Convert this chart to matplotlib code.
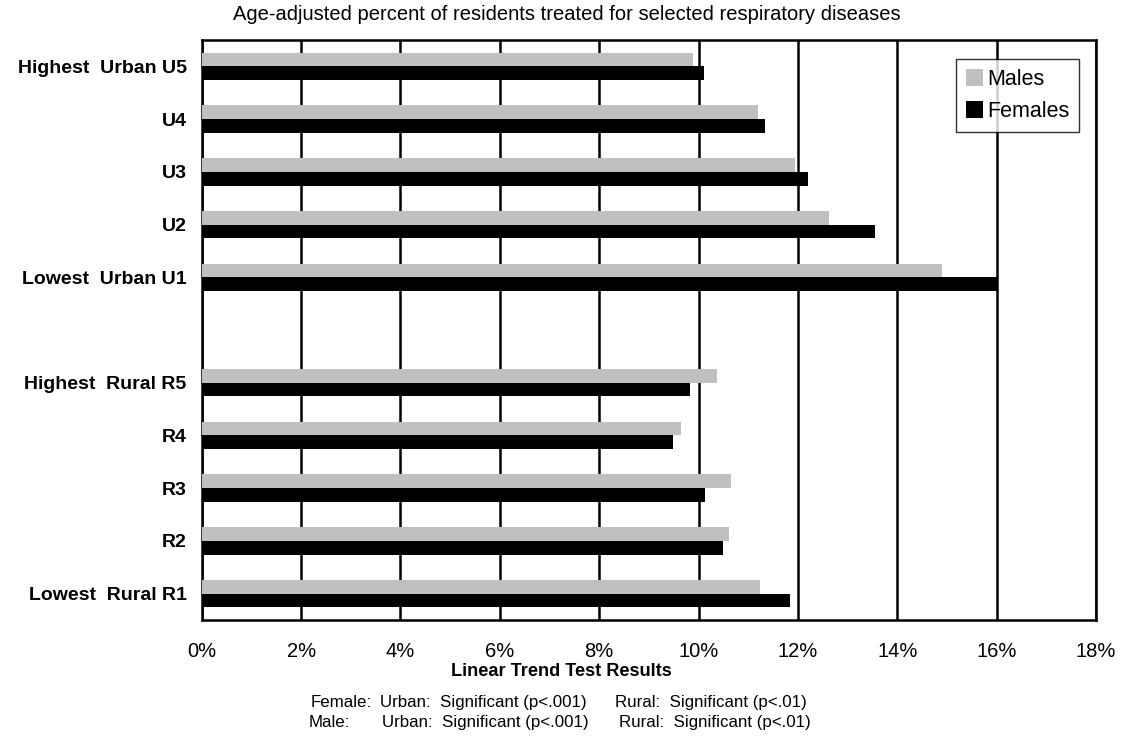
import matplotlib
matplotlib.use("Agg")
import matplotlib.pyplot as plt
import numpy as np

# data (percent)
labels = ["Lowest  Rural R1", "R2", "R3", "R4", "Highest  Rural R5",
          "Lowest  Urban U1", "U2", "U3", "U4", "Highest  Urban U5"]
males = [11.23, 10.62, 10.66, 9.64, 10.38, 14.89, 12.62, 11.95, 11.19, 9.89]
females = [11.84, 10.50, 10.13, 9.48, 9.82, 16.00, 13.55, 12.20, 11.34, 10.10]
xticks = [0, 2, 4, 6, 8, 10, 12, 14, 16, 18]

FONT = ["Liberation Sans", "DejaVu Sans"]
plt.rcParams["font.family"] = FONT

# rural groups at 0..4, one empty slot, urban at 6..10
pos = np.array([0, 1, 2, 3, 4, 6, 7, 8, 9, 10])
h = 0.26

fig = plt.figure(figsize=(11.21, 7.38), dpi=100)
ax = fig.add_axes([0.180, 0.160, 0.7977, 0.7858])

ax.barh(pos + h / 2, males, height=h, color="#c0c0c0", label="Males", zorder=3)
ax.barh(pos - h / 2, females, height=h, color="black", label="Females", zorder=3)

ax.set_xlim(0, 18)
ax.set_ylim(-0.5, 10.5)
ax.set_xticks(xticks)
ax.set_xticklabels([f"{t}%" for t in xticks], fontsize=14.5)
ax.set_yticks(pos)
ax.set_yticklabels(labels, fontweight="bold", fontsize=14)
ax.tick_params(length=0, axis="both")
ax.tick_params(axis="x", pad=16)
ax.tick_params(axis="y", pad=11)
ax.grid(axis="x", color="black", linewidth=1.8, zorder=1)
for s in ax.spines.values():
    s.set_linewidth(1.8)

leg = ax.legend(loc="upper right", bbox_to_anchor=(0.993, 0.985), frameon=True,
                fancybox=False, edgecolor="black", handlelength=0.8, handleheight=0.8,
                handletextpad=0.2, borderpad=0.45, labelspacing=0.5,
                prop={"size": 15.5})
leg.get_frame().set_linewidth(1.0)

fig.text(0.5058, 0.980, "Age-adjusted percent of residents treated for selected respiratory diseases",
         ha="center", va="center", fontsize=14.5)
fig.text(0.5005, 0.0895, "Linear Trend Test Results", ha="center", va="center",
         fontsize=13.1, fontweight="bold")

# footer, laid out in columns like the original
fs = 12.2
fig.text(311 / 1121, 0.0480, "Female:", ha="left", va="center", fontsize=fs)
fig.text(380 / 1121, 0.0480, "Urban:  Significant (p<.001)", ha="left", va="center", fontsize=fs)
fig.text(615 / 1121, 0.0480, "Rural:  Significant (p<.01)", ha="left", va="center", fontsize=fs)
fig.text(309 / 1121, 0.0210, "Male:", ha="left", va="center", fontsize=fs)
fig.text(382 / 1121, 0.0210, "Urban:  Significant (p<.001)", ha="left", va="center", fontsize=fs)
fig.text(619 / 1121, 0.0210, "Rural:  Significant (p<.01)", ha="left", va="center", fontsize=fs)

fig.savefig("out.png", dpi=100)
